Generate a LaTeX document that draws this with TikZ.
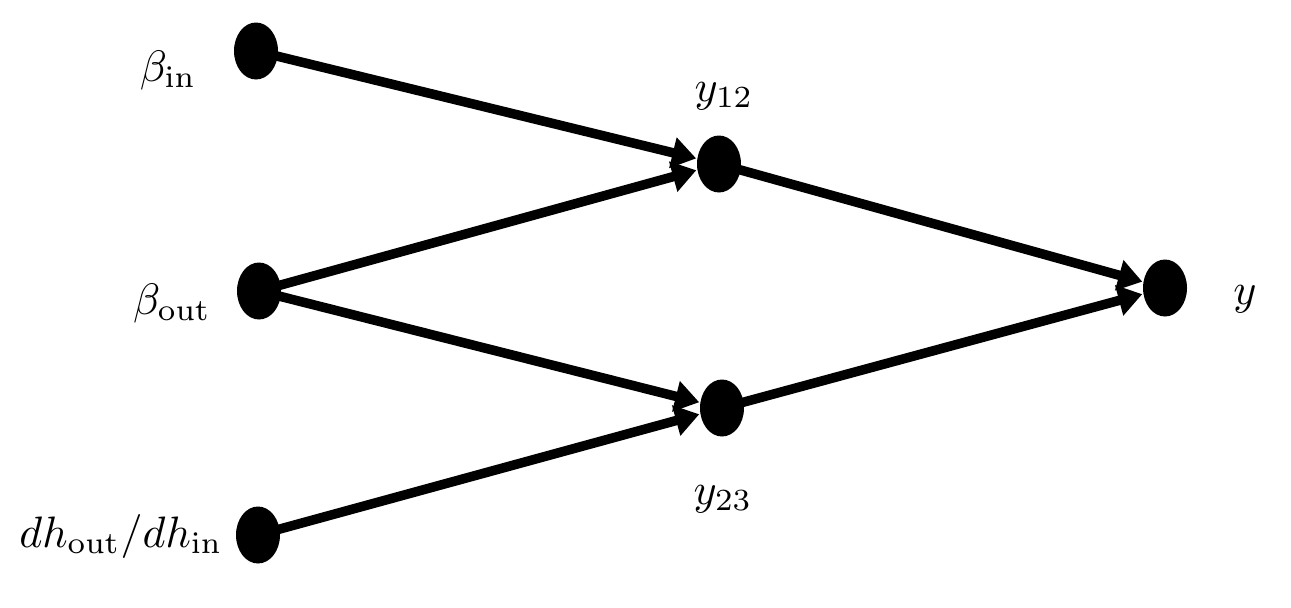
\documentclass[tikz,border=0pt]{standalone}
\usepackage{graphicx}
\usetikzlibrary{shapes.geometric,arrows.meta}
\newcommand{\bigtxt}[1]{\scalebox{4.4}{#1}}
\begin{document}
\begin{tikzpicture}[x=1pt,y=-1pt,
  dot/.style={ellipse,fill=black,draw=none,inner sep=0pt,minimum width=44pt,minimum height=57pt},
  lbl/.style={inner sep=0pt},
  conn/.style={line width=9.5pt,-{Triangle[length=24pt,width=30pt]},shorten >=1pt}]
\useasboundingbox (0,0) rectangle (1291,608);
\node[dot] (bin) at (256,51) {};
\node[dot] (bout) at (259,291) {};
\node[dot] (dh) at (258,535) {};
\node[dot] (y12) at (719,164) {};
\node[dot] (y23) at (722,408) {};
\node[dot] (y) at (1165,288) {};
\node[lbl] (lbin) at (168,70) {\bigtxt{$\beta_{\mathrm{in}}$}};
\node[lbl] (lbout) at (172,303) {\bigtxt{$\beta_{\mathrm{out}}$}};
\node[lbl] (ldh) at (121,536) {\bigtxt{$dh_{\mathrm{out}}/dh_{\mathrm{in}}$}};
\node[lbl] (ly12) at (724,96) {\bigtxt{$y_{12}$}};
\node[lbl] (ly23) at (723,499) {\bigtxt{$y_{23}$}};
\node[lbl] (ly) at (1245,299) {\bigtxt{$y$}};
\draw[conn] (bin.center) -- (y12);
\draw[conn] (bout.center) -- (y12);
\draw[conn] (bout.center) -- (y23);
\draw[conn] (dh.center) -- (y23);
\draw[conn] (y12.center) -- (y);
\draw[conn] (y23.center) -- (y);
\end{tikzpicture}
\end{document}
